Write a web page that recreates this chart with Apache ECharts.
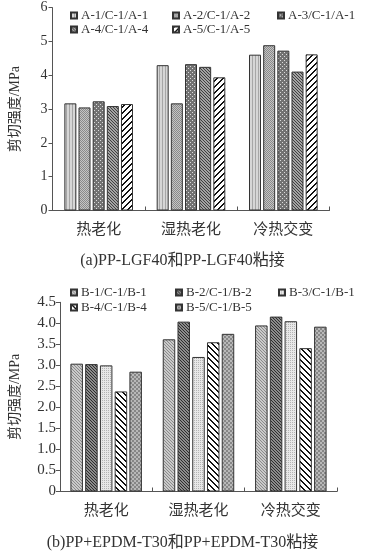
<!DOCTYPE html>
<html><head><meta charset="utf-8">
<script src="https://cdn.jsdelivr.net/npm/echarts@6/dist/echarts.min.js"></script>
<style>html,body{margin:0;padding:0;background:#fff}#c{width:365px;height:558px}</style>
</head><body><div id="c"></div>
<script>
const categories = ['热老化', '湿热老化', '冷热交变'];
const seriesNamesA = ['A-1/C-1/A-1', 'A-2/C-1/A-2', 'A-3/C-1/A-1', 'A-4/C-1/A-4', 'A-5/C-1/A-5'];
const A1 = [3.17, 4.30, 4.61];
const A2 = [3.05, 3.17, 4.89];
const A3 = [3.23, 4.33, 4.73];
const A4 = [3.09, 4.25, 4.11];
const A5 = [3.15, 3.94, 4.62];
const seriesNamesB = ['B-1/C-1/B-1', 'B-2/C-1/B-2', 'B-3/C-1/B-1', 'B-4/C-1/B-4', 'B-5/C-1/B-5'];
const B1 = [3.04, 3.62, 3.95];
const B2 = [3.03, 4.04, 4.16];
const B3 = [3.00, 3.20, 4.05];
const B4 = [2.38, 3.55, 3.41];
const B5 = [2.85, 3.75, 3.92];
const ticksA = [0, 1, 2, 3, 4, 5, 6];
const ticksB = ['0', '0.5', '1.0', '1.5', '2.0', '2.5', '3.0', '3.5', '4.0', '4.5'];
const titleA = '(a)PP-LGF40和PP-LGF40粘接';
const titleB = '(b)PP+EPDM-T30和PP+EPDM-T30粘接';
const yName = '剪切强度/MPa';

const FONT = "'Liberation Serif','Noto Sans CJK SC',serif";

function tile(w, h, fn) {
  const c = document.createElement('canvas');
  c.width = w; c.height = h;
  const ctx = c.getContext('2d');
  for (let y = 0; y < h; y++) for (let x = 0; x < w; x++) {
    ctx.fillStyle = fn(x, y);
    ctx.fillRect(x, y, 1, 1);
  }
  return { image: c, repeat: 'repeat' };
}
const patA = [
  tile(3, 1, (x) => x === 0 ? '#a6a6a6' : '#d6d6d6'),
  tile(2, 2, (x, y) => (x + y) % 2 === 0 ? '#8a8a8a' : '#c4c4c4'),
  tile(4, 4, (x, y) => ((x === 0 && y === 0) || (x === 2 && y === 2)) ? '#dcdcdc' : '#727272'),
  tile(3, 3, (x, y) => x === y ? '#404040' : '#a4a4a4'),
  tile(6, 6, (x, y) => ((x + y) % 6) < 2 ? '#111' : '#fff')
];
const patB = [
  tile(3, 3, (x, y) => x === y ? '#8a8a8a' : '#cacaca'),
  tile(3, 3, (x, y) => x === y ? '#2e2e2e' : '#8c8c8c'),
  tile(2, 2, (x, y) => (x === 0 && y === 0) ? '#b4b4b4' : '#e8e8e8'),
  tile(6, 6, (x, y) => ((x - y + 60) % 6) < 2 ? '#111' : '#fff'),
  tile(4, 4, (x, y) => ((Math.floor(x / 2) + Math.floor(y / 2)) % 2 === 0) ? '#868686' : '#b8b8b8')
];
const dataA = [A1, A2, A3, A4, A5];
const dataB = [B1, B2, B3, B4, B5];

const series = [];
seriesNamesA.forEach((n, i) => series.push({
  name: n, type: 'bar', xAxisIndex: 0, yAxisIndex: 0, data: dataA[i],
  barWidth: 12, barGap: '18%',
  itemStyle: { color: patA[i], borderColor: '#333', borderWidth: 1 }
}));
seriesNamesB.forEach((n, i) => series.push({
  name: n, type: 'bar', xAxisIndex: 1, yAxisIndex: 1, data: dataB[i],
  barWidth: 12.5, barGap: '18%',
  itemStyle: { color: patB[i], borderColor: '#333', borderWidth: 1 }
}));

const legendPos = [[70, 9], [172, 9], [277, 9], [70, 23], [172, 23]];
const legendPosB = [[70, 286], [175, 286], [278, 286], [70, 301], [175, 301]];
const legends = [];
function mkLegend(name, pos) {
  return {
    data: [name], left: pos[0], top: pos[1], padding: 0, icon: 'rect',
    itemWidth: 6, itemHeight: 6, selectedMode: false,
    textStyle: { fontFamily: FONT, fontSize: 13, color: '#333', padding: [0, 0, 0, -1] }
  };
}
seriesNamesA.forEach((n, i) => legends.push(mkLegend(n, legendPos[i])));
seriesNamesB.forEach((n, i) => legends.push(mkLegend(n, legendPosB[i])));

const axisLine = { show: true, lineStyle: { color: '#555', width: 1 } };

const option = {
  animation: false,
  backgroundColor: '#fff',
  title: [
    { text: titleA, left: 'center', top: 253, padding: 0,
      textStyle: { fontFamily: FONT, fontSize: 16, fontWeight: 'normal', color: '#333' } },
    { text: titleB, left: 'center', top: 535, padding: 0,
      textStyle: { fontFamily: FONT, fontSize: 16, fontWeight: 'normal', color: '#333' } }
  ],
  legend: legends,
  grid: [
    { left: 52.5, right: 35.5, top: 7.7, height: 202.8 },
    { left: 53.3, right: 28, top: 302.3, height: 189.2 }
  ],
  xAxis: [0, 1].map(i => ({
    type: 'category', gridIndex: i, data: categories,
    axisLine: axisLine,
    axisTick: { show: true, inside: true, length: 4, lineStyle: { color: '#555' } },
    axisLabel: { fontFamily: FONT, fontSize: 15, color: '#333', margin: 12 },
    splitLine: { show: false }
  })),
  yAxis: [
    { type: 'value', gridIndex: 0, min: 0, max: 6, interval: 1,
      name: yName, nameLocation: 'middle', nameGap: 30,
      nameTextStyle: { fontFamily: FONT, fontSize: 14, color: '#333' },
      axisLine: axisLine,
      axisTick: { show: true, length: 4, lineStyle: { color: '#555' } },
      axisLabel: { fontFamily: FONT, fontSize: 14, color: '#333', margin: 5,
        formatter: v => String(ticksA[Math.round(v)]) },
      splitLine: { show: false } },
    { type: 'value', gridIndex: 1, min: 0, max: 4.5, interval: 0.5,
      name: yName, nameLocation: 'middle', nameGap: 38,
      nameTextStyle: { fontFamily: FONT, fontSize: 14, color: '#333' },
      axisLine: axisLine,
      axisTick: { show: true, length: 4, lineStyle: { color: '#555' } },
      axisLabel: { fontFamily: FONT, fontSize: 15, color: '#333', margin: 4,
        formatter: v => ticksB[Math.round(v * 2)] },
      splitLine: { show: false } }
  ],
  series: series
};
const chart = echarts.init(document.getElementById('c'), null, { renderer: 'canvas' });
chart.setOption(option);
</script></body></html>
